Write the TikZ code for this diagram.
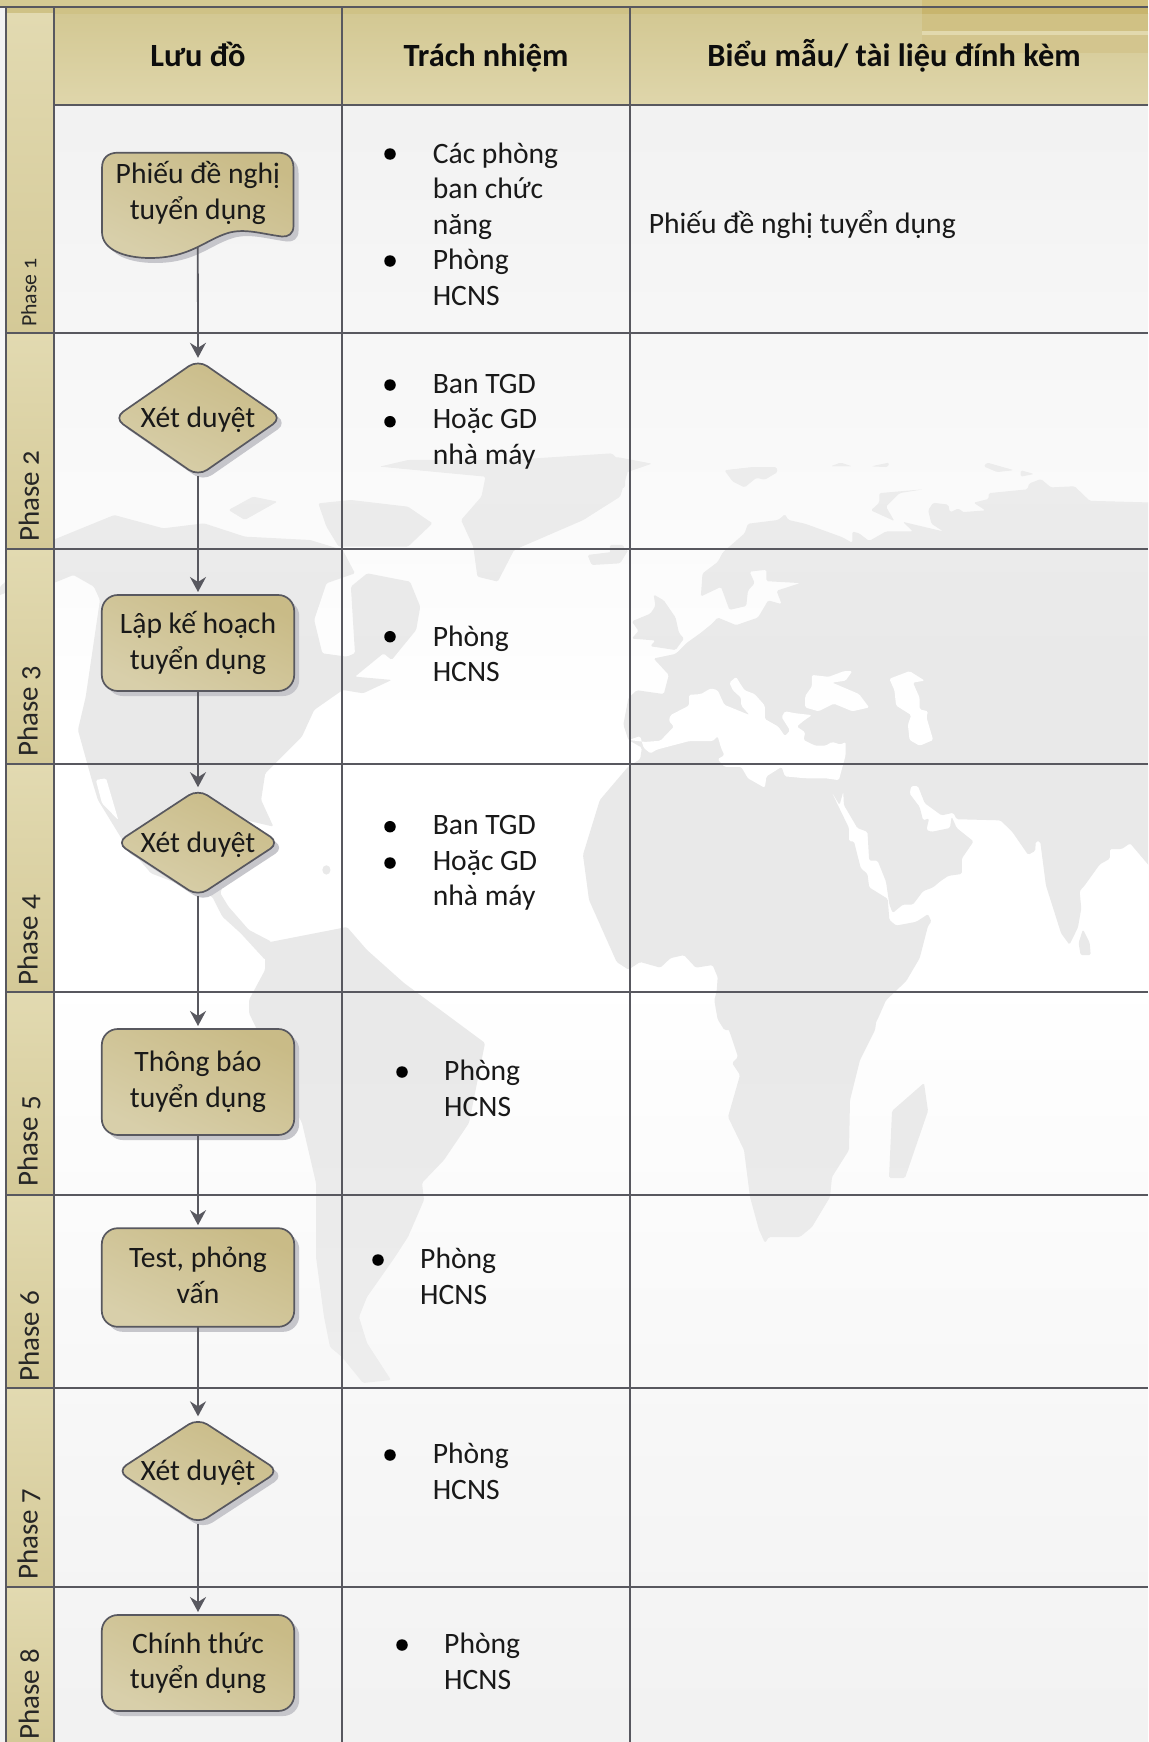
\documentclass[tikz,border=0pt]{standalone}
\usepackage{fontspec}
\setmainfont[Numbers=OldStyle]{Carlito}
\usetikzlibrary{arrows.meta,shapes.geometric}
\definecolor{gridc}{HTML}{58585F}
\definecolor{landc}{HTML}{E9E9E9}
\definecolor{veilc}{HTML}{F2F2F2}
\definecolor{shadowc}{HTML}{C6C6CB}
\definecolor{shapeA}{HTML}{C9BB87}
\definecolor{shapeB}{HTML}{D8CFAA}
\definecolor{D3C893}{HTML}{D3C893}
\definecolor{DFD6AB}{HTML}{DFD6AB}
\definecolor{D5CA93}{HTML}{D5CA93}
\definecolor{CFC286}{HTML}{CFC286}
\definecolor{D1C07D}{HTML}{D1C07D}
\definecolor{C8B56E}{HTML}{C8B56E}
\definecolor{D0C184}{HTML}{D0C184}
\definecolor{E2D9AE}{HTML}{E2D9AE}
\definecolor{D3C58E}{HTML}{D3C58E}
\definecolor{E2DAB1}{HTML}{E2DAB1}
\definecolor{D4C997}{HTML}{D4C997}
\newcommand{\flowstrut}{\rule[-4.5pt]{0pt}{35.5pt}}
\newcommand{\cellstrut}{\rule[-2.15pt]{0pt}{35.5pt}}
\tikzset{
  land/.style={fill=landc,draw=none,rounded corners=1.5pt},
  sea/.style={fill=white,draw=none,rounded corners=1.5pt},
  flowtext/.style={font=\fontsize{29.6}{35.5}\selectfont,align=center,inner sep=0pt,text=black!90,
    execute at begin node=\flowstrut,execute at end node=\flowstrut},
  flowbox/.style={shape=rectangle,rounded corners=16pt,draw=gridc,line width=1.7pt,left color=shapeA,right color=shapeB,shading angle=-25,
    minimum width=192.4pt,inner sep=0pt,outer sep=0pt,
    preaction={fill=shadowc,transform canvas={shift={(5pt,-5pt)}}},
    font=\fontsize{29.6}{35.5}\selectfont,align=center,text=black!90,
    execute at begin node=\flowstrut,execute at end node=\flowstrut},
  flowdiamond/.style={shape=diamond,aspect=1.45,rounded corners=11pt,draw=gridc,line width=1.7pt,left color=shapeA,right color=shapeB,shading angle=-25,
    inner sep=0pt,outer sep=0pt,
    preaction={fill=shadowc,transform canvas={shift={(5pt,-5pt)}}}},
  docanchor/.style={shape=rectangle,inner sep=0pt,outer sep=0pt,minimum width=191.5pt,minimum height=94.3pt},
  flowarrow/.style={draw=gridc,line width=1.8pt,-{Stealth[length=15pt,width=16pt,inset=5pt]}},
  gridline/.style={draw=gridc,line width=2pt},
  headtext/.style={font=\fontsize{32.4}{36}\selectfont\bfseries,inner sep=0pt,anchor=base,text=black!95},
  celltext/.style={font=\fontsize{29.6}{35.5}\selectfont,align=left,inner sep=0pt,anchor=west,text=black!90,
    execute at begin node=\cellstrut,execute at end node=\cellstrut},
  bulletdot/.style={shape=circle,fill=black,inner sep=0pt,minimum size=11.5pt},
  phase/.style={rotate=90,anchor=west,inner sep=0pt,font=\fontsize{29}{32}\selectfont,text=black!85},
}
\begin{document}
\begin{tikzpicture}[x=1pt,y=-1pt]
\useasboundingbox (0,0) rectangle (1148,1742);
\begin{scope}
\clip (0,0) rectangle (1148,1742);
\fill[white] (0,0) rectangle (1148,1742);
% ---- world map, Europe/Asia/north Africa
\begin{scope}[shift={(620,430)},xscale=0.3367,yscale=0.3827]
\fill[land] (25,700)--(50,680)--(130,690)--(145,640)--(100,597)--(165,585)--(200,555)--(240,530)--(275,505)--(290,490)--(345,510)--(410,490)--(440,445)--(480,455)--(465,420)--(535,400)--(435,395)--(435,365)--(385,370)--(400,400)--(380,420)--(375,460)--(325,470)--(300,410)--(240,435)--(245,375)--(290,345)--(305,320)--(370,270)--(380,245)--(470,235)--(490,220)--(500,235)--(550,245)--(660,280)--(690,295)--(690,265)--(710,270)--(740,290)--(790,265)--(870,265)--(840,240)--(960,265)--(925,245)--(915,210)--(930,190)--(975,195)--(980,215)--(1005,205)--(1045,230)--(1010,215)--(1085,210)--(1050,190)--(1095,180)--(1095,165)--(1210,155)--(1215,140)--(1250,128)--(1280,150)--(1350,147)--(1395,185)--(1600,190)--(1600,1170)--(1568,1135)--(1515,1080)--(1490,1095)--(1455,1095)--(1455,1120)--(1425,1135)--(1380,1190)--(1365,1205)--(1370,1250)--(1360,1300)--(1335,1345)--(1310,1315)--(1265,1190)--(1248,1075)--(1235,1075)--(1233,1100)--(1212,1110)--(1165,1050)--(1130,1020)--(1000,1017)--(990,1000)--(955,1007)--(905,975)--(885,930)--(865,930)--(860,950)--(890,985)--(900,1020)--(918,1015)--(910,1045)--(925,1050)--(980,1040)--(985,1010)--(1000,1040)--(1050,1075)--(1015,1120)--(1015,1160)--(975,1165)--(950,1180)--(930,1195)--(900,1205)--(870,1240)--(840,1240)--(810,1262)--(800,1240)--(790,1180)--(765,1125)--(740,1125)--(735,1050)--(705,1040)--(665,980)--(663,945)--(652,980)--(625,940)--(680,1040)--(680,1075)--(695,1075)--(715,1145)--(735,1160)--(740,1195)--(795,1225)--(800,1280)--(820,1295)--(880,1285)--(915,1265)--(925,1285)--(915,1295)--(890,1380)--(850,1440)--(790,1490)--(765,1540)--(745,1568)--(310,1568)--(290,1540)--(280,1490)--(295,1440)--(275,1398)--(225,1405)--(190,1372)--(150,1380)--(120,1405)--(60,1390)--(25,1410)--(-10,1390)--(-92,1228)--(-110,1110)--(-60,967)--(24,880)--(60,860)--(65,830)--(25,810)--(10,770)--cycle;
\fill[land] (100,430)--(130,445)--(165,490)--(175,530)--(190,545)--(165,575)--(90,565)--(105,550)--(35,545)--(55,525)--(35,500)--(90,480)--(105,460)--cycle;
\fill[sea] (25,810)--(60,800)--(70,830)--(90,845)--(110,835)--(205,813)--(275,813)--(290,800)--(300,830)--(310,850)--(290,860)--(310,880)--(360,880)--(380,910)--(430,935)--(435,905)--(480,880)--(490,905)--(550,910)--(610,910)--(650,915)--(670,850)--(670,815)--(655,822)--(630,815)--(610,825)--(580,825)--(545,810)--(550,790)--(525,775)--(545,760)--(570,745)--(520,740)--(490,735)--(480,750)--(505,785)--(490,800)--(470,775)--(430,755)--(430,720)--(400,690)--(370,680)--(355,660)--(345,645)--(325,660)--(335,680)--(360,700)--(360,720)--(385,745)--(310,718)--(290,680)--(270,675)--(240,690)--(205,692)--(205,720)--(150,745)--(145,760)--(160,775)--(120,812)--(75,815)--cycle;
\fill[sea] (570,640)--(620,645)--(665,630)--(690,630)--(670,655)--(630,660)--(710,690)--(740,725)--(690,735)--(635,715)--(590,735)--(550,725)--(550,695)--(570,670)--cycle;
\fill[sea] (800,650)--(860,630)--(905,655)--(870,660)--(890,700)--(890,730)--(915,735)--(910,750)--(930,810)--(890,825)--(860,810)--(855,770)--(865,745)--(820,720)--(815,680)--cycle;
\fill[land] (1375,1305)--(1395,1340)--(1398,1372)--(1368,1372)--(1362,1340)--cycle;
\fill[land] (1080,95)--(1090,85)--(1170,105)--(1120,110)--cycle;
\fill[land] (1190,105)--(1230,115)--(1190,122)--cycle;
\fill[land] (310,105)--(390,97)--(465,97)--(468,110)--(430,130)--(405,125)--(370,150)--(335,135)--cycle;
\fill[land] (625,95)--(655,85)--(690,95)--cycle;
\fill[land] (745,95)--(800,85)--(795,97)--cycle;
\fill[land] (770,165)--(900,155)--(830,165)--(790,200)--(815,238)--(745,210)--(770,190)--cycle;
\fill[land] (-30,70)--(0,72)--(95,88)--(15,112)--(15,150)--(-30,160)--cycle;
\fill[land] (-30,300)--(10,300)--(15,320)--(0,335)--(-30,340)--cycle;
\end{scope}
% ---- southern Africa, Madagascar, South America
\fill[land] (718,973)--(716,1000)--(730,1033)--(738,1057)--(732,1063)--(740,1075)--(728,1117)--(744,1150)--(750,1197)--(759,1230)--(765,1243)--(769,1237)--(800,1237)--(812,1227)--(830,1197)--(832,1177)--(849,1150)--(850,1100)--(860,1060)--(875,1030)--(878,1010)--(800,960)--cycle;
\fill[land] (892,1111)--(924,1083)--(928,1111)--(905,1178)--(889,1178)--cycle;
\fill[land] (265,943)--(347,927)--(367,950)--(404,983)--(485,1043)--(469,1123)--(444,1160)--(422,1183)--(424,1200)--(408,1237)--(395,1257)--(367,1297)--(359,1317)--(367,1343)--(391,1380)--(363,1383)--(342,1357)--(330,1347)--(324,1317)--(316,1257)--(316,1183)--(302,1123)--(249,1013)--(249,1000)--(265,970)--cycle;
% ---- North America, Greenland
\begin{scope}[shift={(0,320)},xscale=0.408,yscale=0.3333]
\fill[land] (-10,830)--(0,800)--(130,660)--(280,585)--(400,625)--(500,610)--(600,650)--(760,660)--(840,690)--(870,760)--(800,790)--(770,900)--(790,1000)--(850,1010)--(870,1000)--(860,800)--(900,760)--(1005,785)--(1030,860)--(1020,930)--(960,1020)--(940,1000)--(870,1070)--(960,1080)--(890,1120)--(840,1110)--(770,1170)--(740,1250)--(650,1360)--(640,1440)--(670,1520)--(600,1500)--(540,1720)--(560,1760)--(610,1830)--(665,1865)--(650,1920)--(590,1840)--(545,1790)--(520,1730)--(370,1660)--(300,1560)--(280,1520)--(240,1440)--(225,1380)--(191,1230)--(210,1131)--(245,840)--(230,800)--(180,765)--(130,790)--(32,810)--cycle;
\fill[sea] (235,1380)--(260,1375)--(290,1500)--(250,1450)--cycle;
\fill[land] (930,440)--(1000,420)--(1250,420)--(1500,400)--(1540,450)--(1520,530)--(1430,600)--(1260,690)--(1220,785)--(1170,770)--(1160,680)--(1130,600)--(1180,530)--(1190,470)--cycle;
\fill[land] (560,570)--(620,530)--(680,545)--(600,600)--cycle;
\fill[land] (780,550)--(860,540)--(1000,560)--(1060,610)--(1000,680)--(830,680)--(800,620)--cycle;
\fill[land] (1440,705)--(1540,690)--(1520,730)--(1450,735)--cycle;
\fill[landc] (800,1650) ellipse (10 and 14);
\end{scope}
% ---- page background fade
\foreach \yy in {0,4,...,1740}{
  \pgfmathsetmacro{\veil}{\yy<700 ? min(1,(700-\yy)/595) : (\yy>1000 ? (\yy-1000)/742 : 0)}
  \fill[veilc,fill opacity=\veil] (0,\yy) rectangle (1148,\yy+4);
}
% ---- header band and decoration
\shade[top color=D3C893,bottom color=DFD6AB] (54,14) rectangle (1148,105);
\fill[D5CA93] (0,0) rectangle (1148,7);
\fill[CFC286] (6,7) rectangle (1148,14);
\fill[D1C07D] (922,0) rectangle (1148,7);
\fill[C8B56E] (922,7) rectangle (1148,14);
\fill[D0C184] (922,14) rectangle (1148,31);
\fill[E2D9AE] (922,31) rectangle (1148,35);
\fill[D3C58E] (922,35) rectangle (1148,53);
% ---- lane column
\shade[top color=E2DAB1,bottom color=D4C997] (6,14) rectangle (54,333);
\shade[top color=E2DAB1,bottom color=D4C997] (6,333) rectangle (54,549);
\shade[top color=E2DAB1,bottom color=D4C997] (6,549) rectangle (54,764);
\shade[top color=E2DAB1,bottom color=D4C997] (6,764) rectangle (54,992);
\shade[top color=E2DAB1,bottom color=D4C997] (6,992) rectangle (54,1195);
\shade[top color=E2DAB1,bottom color=D4C997] (6,1195) rectangle (54,1388);
\shade[top color=E2DAB1,bottom color=D4C997] (6,1388) rectangle (54,1587);
\shade[top color=E2DAB1,bottom color=D4C997] (6,1587) rectangle (54,1742);
% ---- grid
\draw[gridline] (0,7) -- (1148,7);
\draw[gridline] (54,105) -- (1148,105);
\draw[gridline] (6,333) -- (1148,333);
\draw[gridline] (6,549) -- (1148,549);
\draw[gridline] (6,764) -- (1148,764);
\draw[gridline] (6,992) -- (1148,992);
\draw[gridline] (6,1195) -- (1148,1195);
\draw[gridline] (6,1388) -- (1148,1388);
\draw[gridline] (6,1587) -- (1148,1587);
\draw[gridline] (6,7) -- (6,1742);
\draw[gridline] (54,7) -- (54,1742);
\draw[gridline] (342,7) -- (342,1742);
\draw[gridline] (630,7) -- (630,1742);
\end{scope}
% ---- header text
\node[headtext] (h1) at (198,67) {Lưu đồ};
\node[headtext] (h2) at (486,67) {Trách nhiệm};
\node[headtext] (h3) at (894,67) {Biểu mẫu/ tài liệu đính kèm};
% ---- phase labels
\node[phase,font=\fontsize{21.8}{24}\selectfont] (p1) at (29,327) {Phase 1};
\node[phase] (p2) at (29,542) {Phase 2};
\node[phase] (p3) at (29,757) {Phase 3};
\node[phase] (p4) at (29,986) {Phase 4};
\node[phase] (p5) at (29,1187) {Phase 5};
\node[phase] (p6) at (29,1382) {Phase 6};
\node[phase] (p7) at (29,1580) {Phase 7};
\node[phase] (p8) at (29,1740) {Phase 8};
% ---- flow shapes
\fill[shadowc,transform canvas={shift={(5pt,-5pt)}}] (118,152.7) -- (278,152.7) .. controls (288,152.7) and (293.5,158) .. (293.5,168) -- (293.5,226) .. controls (293.5,234) and (288,237) .. (282,236.5) .. controls (262,234) and (245,228) .. (228,233) .. controls (205,240) and (190,258) .. (150,258) .. controls (125,258) and (102,250) .. (102,232) -- (102,168) .. controls (102,158) and (108,152.7) .. (118,152.7) -- cycle;
\draw[draw=gridc,line width=1.7pt,left color=shapeA,right color=shapeB,shading angle=-25] (118,152.7) -- (278,152.7) .. controls (288,152.7) and (293.5,158) .. (293.5,168) -- (293.5,226) .. controls (293.5,234) and (288,237) .. (282,236.5) .. controls (262,234) and (245,228) .. (228,233) .. controls (205,240) and (190,258) .. (150,258) .. controls (125,258) and (102,250) .. (102,232) -- (102,168) .. controls (102,158) and (108,152.7) .. (118,152.7) -- cycle;
\node[docanchor,label={[flowtext,yshift=6.85pt]center:{Phiếu đề nghị\\tuyển dụng}}] (n1) at (197.8,199.85) {};
\node[flowdiamond,minimum width=168pt,minimum height=116.4pt,label={[flowtext,yshift=3.5pt]center:{Xét duyệt}}] (n2) at (198,418) {};
\node[flowbox,minimum height=96pt] (n3) at (198,643) {Lập kế hoạch\\tuyển dụng};
\node[flowdiamond,minimum width=163pt,minimum height=107pt,label={[flowtext,yshift=3.5pt]center:{Xét duyệt}}] (n4) at (198,842.7) {};
\node[flowbox,minimum height=106pt] (n5) at (198,1082) {Thông báo\\tuyển dụng};
\node[flowbox,minimum height=98.6pt] (n6) at (198,1277.5) {Test, phỏng\\vấn};
\node[flowdiamond,minimum width=161.7pt,minimum height=105.3pt,label={[flowtext,yshift=3.5pt]center:{Xét duyệt}}] (n7) at (198,1471) {};
\node[flowbox,minimum height=96pt] (n8) at (198,1663) {Chính thức\\tuyển dụng};
% ---- connectors
\draw[flowarrow,shorten >=2pt] (n1.south) -- (n2.north);
\draw[flowarrow,shorten >=3pt] (n2.south) -- (n3.north);
\draw[flowarrow,shorten >=2pt] (n3.south) -- (n4.north);
\draw[flowarrow,shorten >=3pt] (n4.south) -- (n5.north);
\draw[flowarrow,shorten >=3pt] (n5.south) -- (n6.north);
\draw[flowarrow,shorten >=2pt] (n6.south) -- (n7.north);
\draw[flowarrow,shorten >=3pt] (n7.south) -- (n8.north);
% ---- responsibility column
\node[bulletdot] (b1a) at (390,154) {};
\node[bulletdot] (b1b) at (390,261) {};
\node[celltext] (r1) at (432.6,225) {Các phòng\\ban chức\\năng\\Phòng\\HCNS};
\node[bulletdot] (b2a) at (390,385) {};
\node[bulletdot] (b2b) at (390,421.7) {};
\node[celltext] (r2) at (432.6,421.7) {Ban TGD\\Hoặc GD\\nhà máy};
\node[bulletdot] (b3) at (390,636.7) {};
\node[celltext] (r3) at (432.6,654.7) {Phòng\\HCNS};
\node[bulletdot] (b4a) at (390,826.7) {};
\node[bulletdot] (b4b) at (390,863) {};
\node[celltext] (r4) at (432.6,863) {Ban TGD\\Hoặc GD\\nhà máy};
\node[bulletdot] (b5) at (402,1072) {};
\node[celltext] (r5) at (444,1089.5) {Phòng\\HCNS};
\node[bulletdot] (b6) at (378,1260) {};
\node[celltext] (r6) at (420,1277.5) {Phòng\\HCNS};
\node[bulletdot] (b7) at (390,1455) {};
\node[celltext] (r7) at (432.6,1472.5) {Phòng\\HCNS};
\node[bulletdot] (b8) at (402,1645) {};
\node[celltext] (r8) at (444,1662.5) {Phòng\\HCNS};
% ---- attachment column
\node[celltext] (f1) at (648.6,219.5) {Phiếu đề nghị tuyển dụng};
\end{tikzpicture}
\end{document}
